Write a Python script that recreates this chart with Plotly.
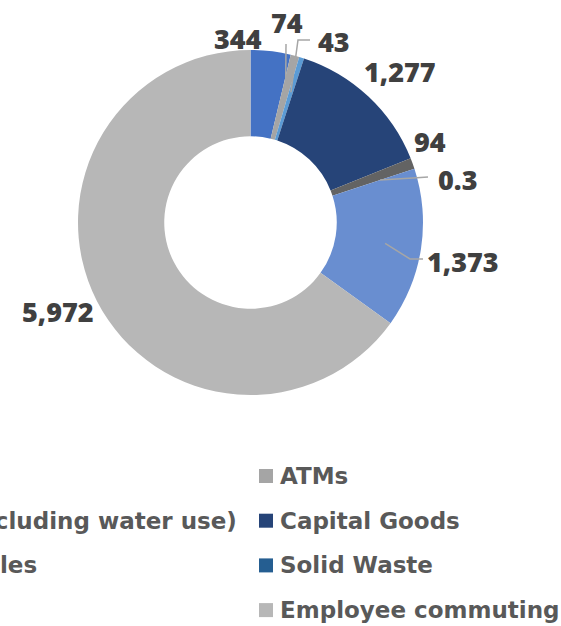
import math
import plotly.graph_objects as go

# Scope 3 emission categories (tCO2e), in slice order, clockwise from 12 o'clock
categories = [
    "Business travel",
    "ATMs",
    "Purchased goods and services (excluding water use)",
    "Capital Goods",
    "Fuel combustion in company vehicles",
    "Solid Waste",
    "Electricity T&D losses",
    "Employee commuting",
]
values = [344, 74, 43, 1277, 94, 0.3, 1373, 5972]
colors = ["#4472C4", "#A5A5A5", "#5B9BD5", "#264478",
          "#636363", "#255E91", "#698ED0", "#B7B7B7"]

# Label placement (pixel centres) and leader line elbows for the crowded labels
label_pos = [(238, 38), (287, 23), (334, 42), (400, 72),
             (430, 141), (457, 179), (463, 261), (58, 311)]
leader_pts = {1: [(286, 44)],
              2: [(310, 40), (298, 40)],
              5: [(428, 177), (413, 178)],
              6: [(423, 259), (410, 259)]}

W, H = 561, 626
CX, CY, R = 250.5, 222.5, 172.5


def px(x):
    return x / W


def py(y):
    return 1 - y / H


def fmt(v):
    return f"{v:,.0f}" if float(v).is_integer() else f"{v:,}"


fig = go.Figure(go.Pie(
    values=values,
    labels=categories,
    marker=dict(colors=colors, line=dict(width=0)),
    hole=0.5,
    sort=False,
    direction="clockwise",
    rotation=0,
    textinfo="none",
    hoverinfo="label+value",
    showlegend=False,
    domain=dict(x=[px(CX - R), px(CX + R)], y=[py(CY + R), py(CY - R)]),
))

annotations = []
shapes = []

# value labels
for v, (lx, ly) in zip(values, label_pos):
    annotations.append(dict(
        x=px(lx), y=py(ly), xref="paper", yref="paper",
        text=fmt(v), showarrow=False, xanchor="center", yanchor="middle",
        font=dict(family="Open Sans", size=27, color="#404040", weight=800),
    ))

# leader lines from slice interior to label
total = sum(values)
cum = 0.0
mids = []
for v in values:
    mids.append((cum + v / 2) / total * 360.0)
    cum += v
for idx, pts in leader_pts.items():
    a = math.radians(mids[idx])
    r = 0.79 * R
    inner = (CX + r * math.sin(a), CY - r * math.cos(a))
    path_pts = pts + [inner]
    d = "M " + " L ".join(f"{px(x):.5f},{py(y):.5f}" for x, y in path_pts)
    shapes.append(dict(type="path", path=d, xref="paper", yref="paper",
                       line=dict(color="#A6A6A6", width=1.5)))

# two-column legend beneath the ring
col_text_x = [-449, 278]
row_y0, row_dy = 476, 44.7
sq = 14
for i, (name, c) in enumerate(zip(categories, colors)):
    row, col = divmod(i, 2)
    yc = row_y0 + row * row_dy
    tx = col_text_x[col]
    shapes.append(dict(type="rect", xref="paper", yref="paper",
                       x0=px(tx - 19), x1=px(tx - 19 + sq),
                       y0=py(yc + sq / 2), y1=py(yc - sq / 2),
                       fillcolor=c, line=dict(width=0)))
    annotations.append(dict(
        x=px(tx), y=py(yc), xref="paper", yref="paper",
        text=name, showarrow=False, xanchor="left", yanchor="middle",
        font=dict(family="DejaVu Sans", size=23, color="#595959", weight="bold"),
    ))

fig.update_layout(
    width=W, height=H,
    margin=dict(l=0, r=0, t=0, b=0, autoexpand=False),
    paper_bgcolor="white", plot_bgcolor="white",
    annotations=annotations, shapes=shapes,
)

fig.write_html("out.html")
